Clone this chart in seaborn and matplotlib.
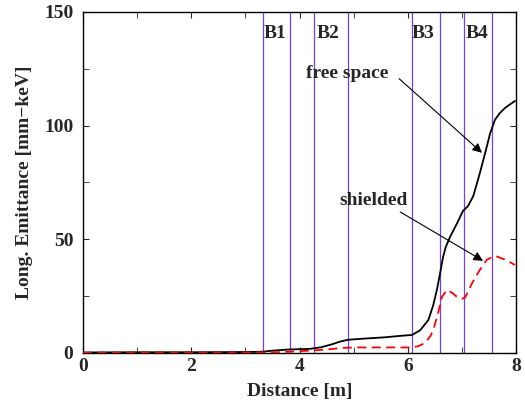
import numpy as np
import pandas as pd
import matplotlib.pyplot as plt
import seaborn as sns

# === Dati ===
dist_free = [0.0, 1.0, 2.0, 3.0, 3.3, 3.5, 3.8, 4.2, 4.4, 4.6, 4.75, 4.9, 5.2, 5.6, 5.86, 6.08,
             6.23, 6.38, 6.47, 6.54, 6.6, 6.65, 6.7, 6.78, 6.91, 7.02, 7.07, 7.11,
             7.21, 7.33, 7.43, 7.52, 7.61, 7.7, 7.8, 7.9, 7.98]
emit_free = [0.2, 0.3, 0.3, 0.4, 0.5, 1.0, 1.5, 1.8, 2.5, 3.8, 5.0, 5.8, 6.3, 6.9, 7.5, 7.9,
             10.0, 14.5, 21.0, 28.0, 35.5, 42.0, 46.5, 51.0, 57.0, 62.5, 63.6, 64.5,
             69.0, 79.0, 88.0, 96.5, 102.5, 105.5, 107.8, 109.5, 110.8]

dist_shield = [0.0, 1.0, 2.0, 3.0, 3.5, 3.8, 4.2, 4.5, 4.8, 5.0, 5.5, 6.08, 6.2, 6.32,
               6.42, 6.47, 6.56, 6.63, 6.72, 6.82, 6.93, 7.0, 7.06, 7.19, 7.33, 7.46,
               7.61, 7.8, 7.98]
emit_shield = [0.1, 0.2, 0.2, 0.2, 0.3, 0.5, 1.0, 1.5, 2.2, 2.4, 2.4, 2.4, 3.0, 4.4,
               7.5, 10.0, 17.6, 24.6, 27.7, 26.4, 24.2, 23.8, 24.4, 30.8, 36.5, 41.0,
               42.7, 41.0, 38.7]

# posizioni dei bordi dei dipoli
dipole_edges = [3.33, 3.83, 4.27, 4.89, 6.08, 6.59, 7.03, 7.56]
dipole_names = ["B1", "B2", "B3", "B4"]
dipole_label_x = [3.55, 4.53, 6.28, 7.28]

free = pd.DataFrame({"dist": dist_free, "emit": emit_free})
shield = pd.DataFrame({"dist": dist_shield, "emit": emit_shield})

# === Grafico ===
sns.set_style("ticks")
plt.rcParams["font.family"] = ["Liberation Serif", "DejaVu Serif"]
plt.rcParams["font.weight"] = "bold"

fig = plt.figure(figsize=(5.25, 4.08), dpi=100)
ax = fig.add_axes([0.158, 0.135, 0.825, 0.836])

for xe in dipole_edges:
    ax.axvline(xe, color="#7a3dd6", lw=0.9, zorder=1)

sns.lineplot(data=free, x="dist", y="emit", color="black", lw=1.3, ax=ax, zorder=3)
sns.lineplot(data=shield, x="dist", y="emit", color="red", lw=1.3, ax=ax, zorder=3)
ax.lines[-1].set_dashes([5, 3])

for name, xl in zip(dipole_names, dipole_label_x):
    ax.text(xl, 140.5, name, ha="center", va="center", fontsize=14, fontweight="bold")

# etichette e frecce
ax.text(4.88, 123, "free space", ha="center", va="center", fontsize=14, fontweight="bold")
ax.annotate("", xy=(7.37, 88), xytext=(5.84, 120.6),
            arrowprops=dict(arrowstyle="-|>", color="black", lw=0.8, shrinkA=0, shrinkB=0,
                            mutation_scale=14))
ax.text(5.36, 67, "shielded", ha="center", va="center", fontsize=14, fontweight="bold")
ax.annotate("", xy=(7.39, 40.5), xytext=(5.86, 62),
            arrowprops=dict(arrowstyle="-|>", color="black", lw=0.8, shrinkA=0, shrinkB=0,
                            mutation_scale=14))

ax.set_xlim(0, 8)
ax.set_ylim(0, 150)
ax.set_xticks([0, 2, 4, 6, 8])
ax.set_xticks([1, 3, 5, 7], minor=True)
ax.set_yticks([0, 50, 100, 150])
ax.set_yticks([25, 75, 125], minor=True)
ax.tick_params(which="both", direction="in", top=True, right=True, labelsize=14, length=4)
ax.tick_params(axis="y", which="major", pad=7)
for s in ax.spines.values():
    s.set_color("black")
    s.set_linewidth(1.0)
for lab in ax.get_xticklabels() + ax.get_yticklabels():
    lab.set_fontweight("bold")

ax.set_xlabel("Distance [m]", fontsize=14, fontweight="bold", labelpad=6)
ax.set_ylabel("Long. Emittance [mm\u2212keV]", fontsize=14, fontweight="bold", labelpad=8)

plt.savefig("out.png", dpi=100)
plt.close()
